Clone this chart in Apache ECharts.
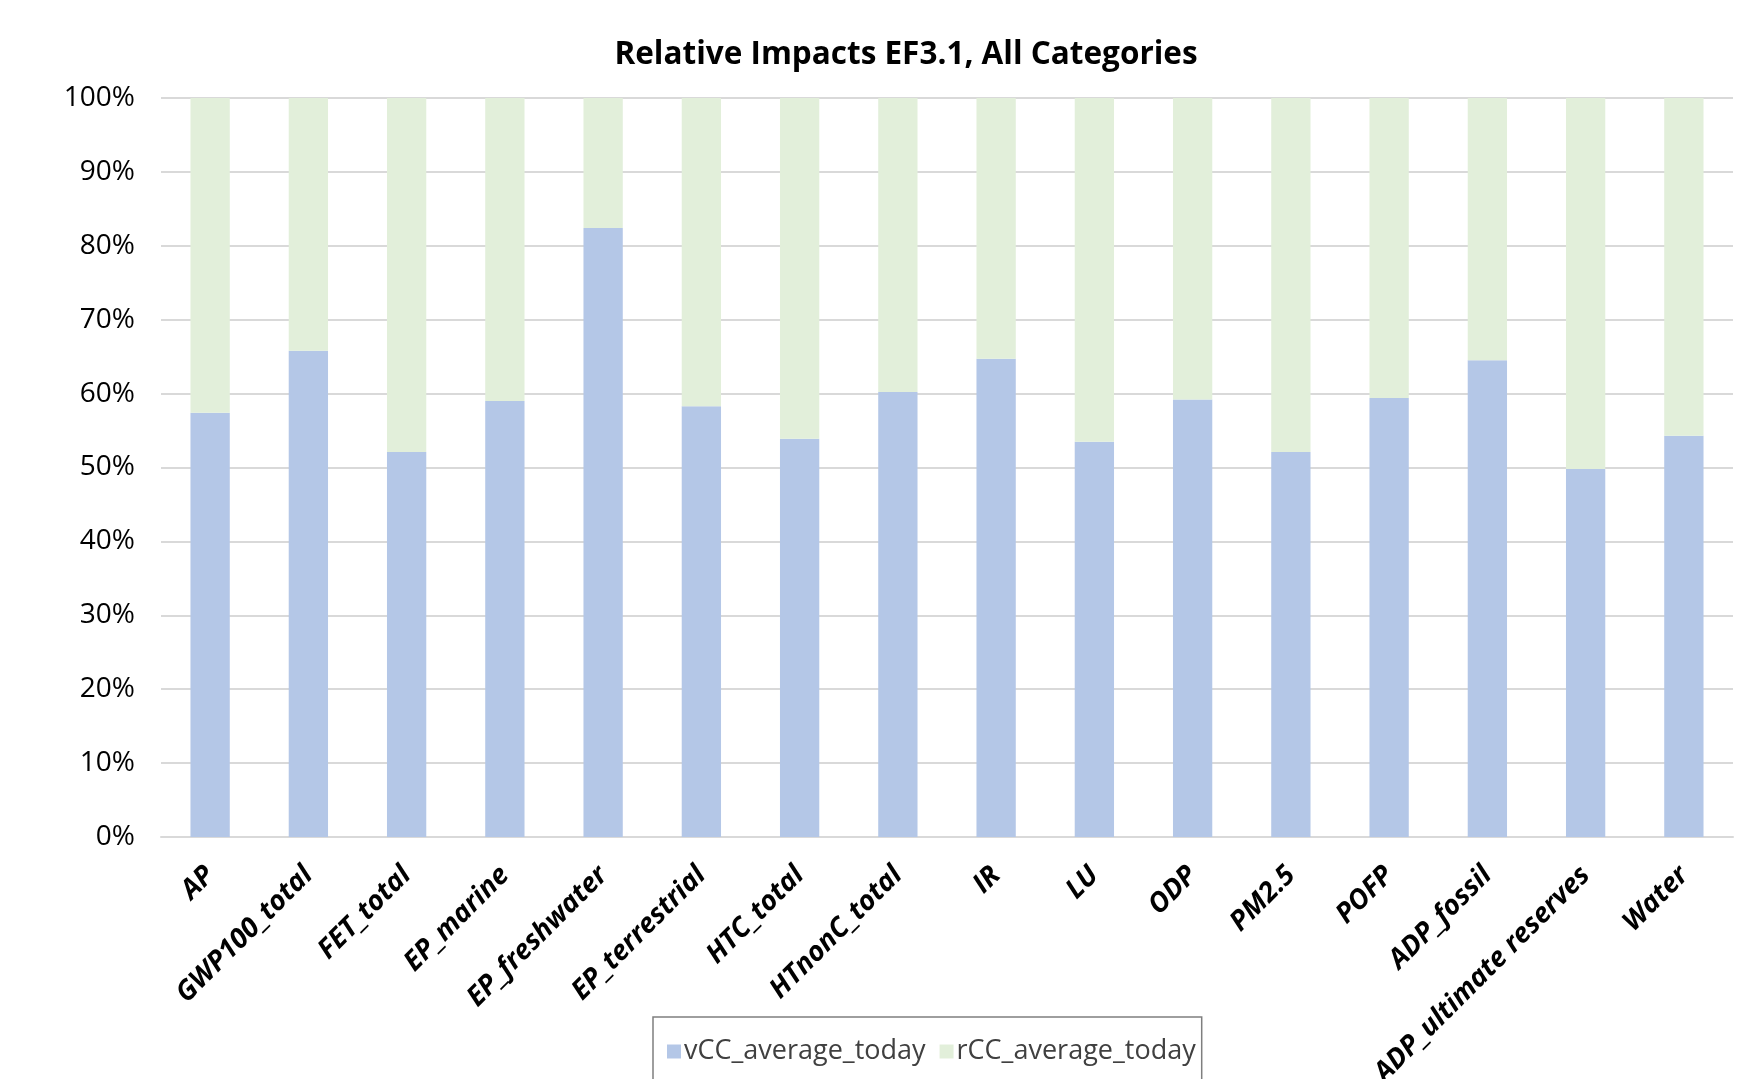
<!DOCTYPE html>
<html>
<head>
<meta charset="utf-8">
<script src="https://cdn.jsdelivr.net/npm/echarts@6/dist/echarts.min.js"></script>
<style>html,body{margin:0;padding:0;background:#fff;}#c{width:1763px;height:1079px;}</style>
</head>
<body>
<div id="c"></div>
<script>
const categories = ["AP","GWP100_total","FET_total","EP_marine","EP_freshwater","EP_terrestrial","HTC_total","HTnonC_total","IR","LU","ODP","PM2.5","POFP","ADP_fossil","ADP_ultimate reserves","Water"];
const vCC = [57.4, 65.8, 52.1, 59.0, 82.4, 58.3, 53.9, 60.2, 64.7, 53.5, 59.2, 52.1, 59.4, 64.5, 49.8, 54.3];
const rCC = vCC.map(v => +(100 - v).toFixed(1));
const yTicks = [0,10,20,30,40,50,60,70,80,90,100];

const FONT = "Open Sans";
const chart = echarts.init(document.getElementById('c'));
chart.setOption({
  backgroundColor: '#ffffff',
  animation: false,
  title: {
    text: 'Relative Impacts EF3.1, All Categories',
    left: 901, top: 34, textAlign: 'center',
    textStyle: {fontFamily: FONT, fontWeight: 'bold', fontSize: 31.5, color: '#000'}
  },
  legend: {
    left: 653, top: 1017,
    data: ['vCC_average_today','rCC_average_today'],
    icon: 'rect', itemWidth: 14, itemHeight: 14, itemGap: 14,
    borderColor: '#7f7f7f', borderWidth: 1.5,
    padding: [21, 6, 40, 14],
    textStyle: {fontFamily: FONT, fontSize: 27, color: '#404040', padding: [0,0,0,-2]}
  },
  grid: {left: 161, right: 30, top: 98, bottom: 242, containLabel: false, outerBoundsMode: 'none'},
  xAxis: {
    type: 'category', data: categories,
    axisLine: {lineStyle: {color: '#d9d9d9', width: 2}},
    axisTick: {show: false},
    axisLabel: {rotate: 45, interval: 0, margin: 34, fontFamily: FONT, fontWeight: 'bold', fontStyle: 'italic', fontSize: 27.5, color: '#000'}
  },
  yAxis: {
    type: 'value', min: 0, max: 100, interval: 10,
    axisLine: {show: false}, axisTick: {show: false},
    splitLine: {lineStyle: {color: '#d9d9d9', width: 2}},
    axisLabel: {formatter: v => v + '%', margin: 26, fontFamily: FONT, fontSize: 28, color: '#000'}
  },
  series: [
    {name: 'vCC_average_today', type: 'bar', stack: 's', data: vCC, barWidth: '40%', itemStyle: {color: '#b4c7e7'}},
    {name: 'rCC_average_today', type: 'bar', stack: 's', data: rCC, barWidth: '40%', itemStyle: {color: '#e2efda'}}
  ]
});
</script>
</body>
</html>
